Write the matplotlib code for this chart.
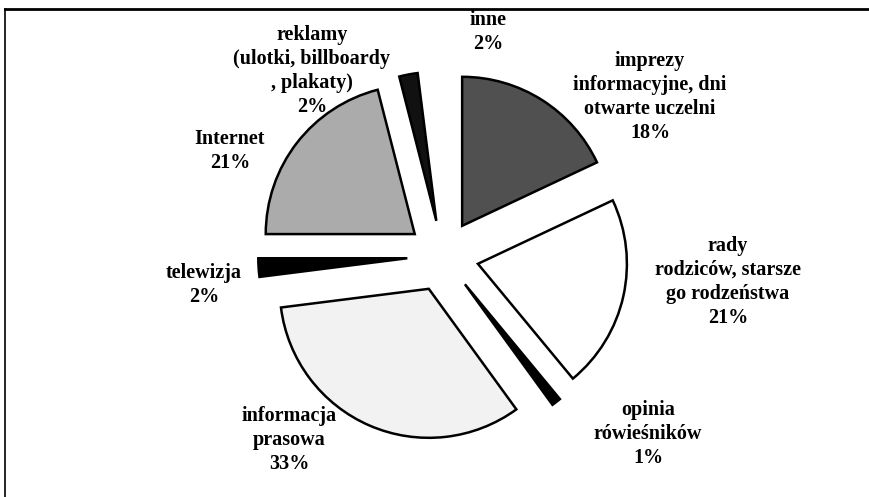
import matplotlib
matplotlib.use("Agg")
import matplotlib.pyplot as plt
from matplotlib.lines import Line2D

# Data
categories = [
    "imprezy\ninformacyjne, dni\notwarte uczelni",
    "rady\nrodziców, starsze\ngo rodzeństwa",
    "opinia\nrówieśników",
    "informacja\nprasowa",
    "telewizja",
    "Internet",
    "reklamy\n(ulotki, billboardy\n, plakaty)",
    "inne",
]
values = [18, 21, 1, 33, 2, 21, 2, 2]

# Styles
face_colors = ["#505050", "#ffffff", "#000000", "#f2f2f2",
               "#000000", "#ababab", "#111111", "#ffffff"]
edge_colors = ["black", "black", "black", "black",
               "black", "black", "black", "none"]
label_pos = [(650, 97), (728, 282), (648, 434), (289, 440),
             (204, 285), (230, 151), (312, 71), (488, 32)]

W, H = 870, 497
fig = plt.figure(figsize=(W / 100, H / 100), dpi=100)
ax = fig.add_axes([0, 0, 1, 1])

cx, cy, R = 443, H - 256, 149
explode = [0.24 * R] * len(values)
wedges, _ = ax.pie(values, startangle=90, counterclock=False,
                   radius=R, center=(cx, cy), explode=explode,
                   colors=face_colors,
                   wedgeprops=dict(linewidth=1.8, joinstyle="miter"))
for w, ec in zip(wedges, edge_colors):
    w.set_edgecolor(ec)

ax.set_xlim(0, W)
ax.set_ylim(0, H)
ax.set_aspect("equal")
ax.axis("off")

for name, v, (px, py) in zip(categories, values, label_pos):
    ax.text(px, H - py, f"{name}\n{v}%", ha="center", va="center",
            fontsize=14.5, fontweight="bold", family="Liberation Serif",
            linespacing=1.27)

# Partial frame (top and left)
ax.add_line(Line2D([5, W], [H - 9, H - 9], color="black", lw=2))
ax.add_line(Line2D([5, 5], [H - 9, 0], color="black", lw=1.2))

fig.savefig("out.png", dpi=100)
